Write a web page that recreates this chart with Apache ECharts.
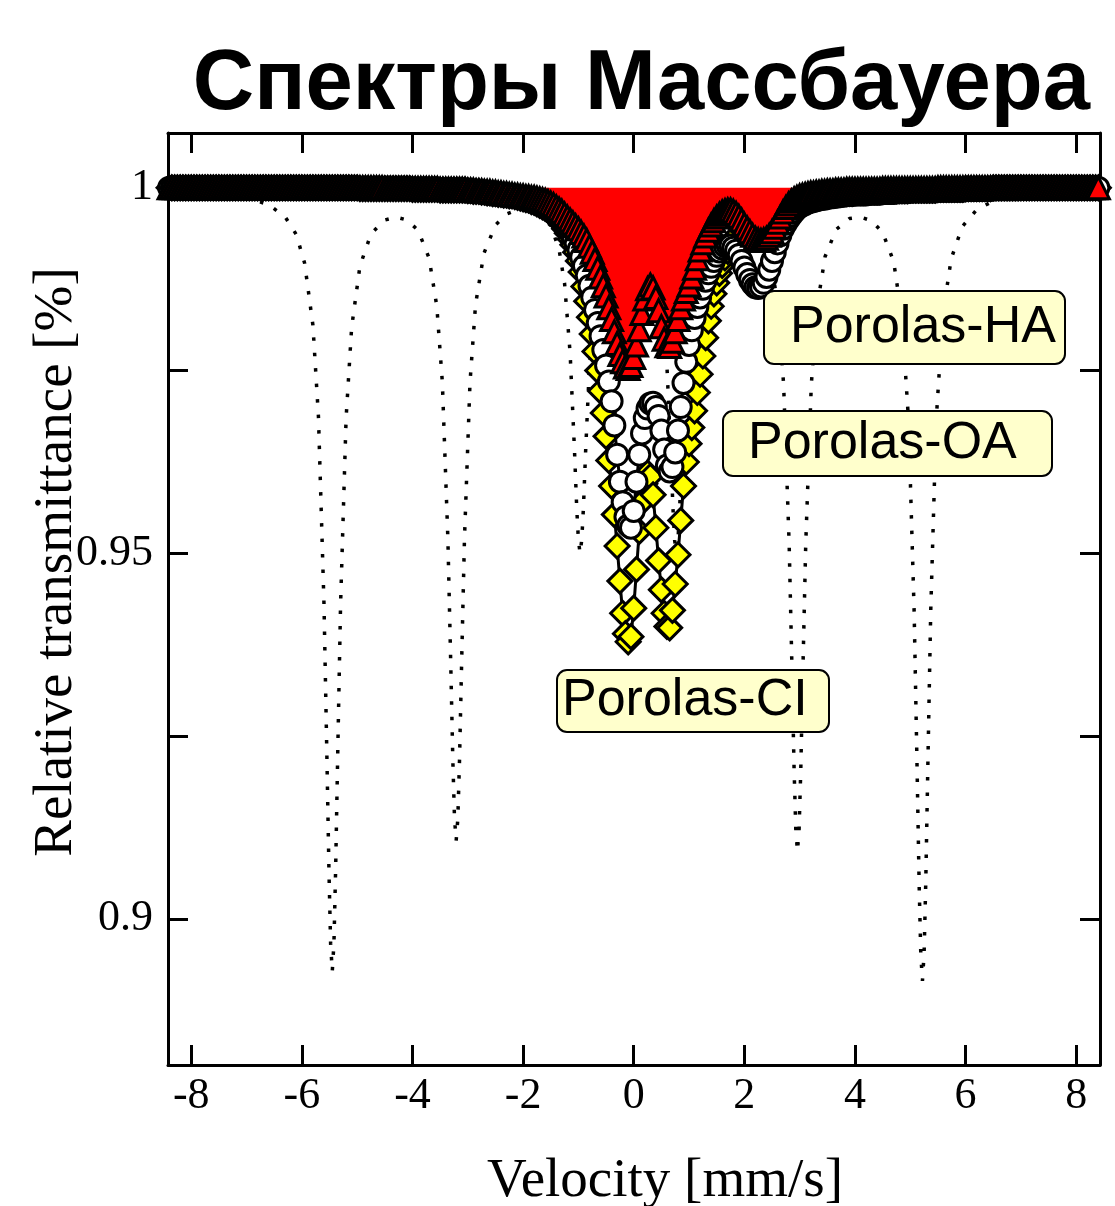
<!DOCTYPE html>
<html>
<head>
<meta charset="utf-8">
<script src="https://cdn.jsdelivr.net/npm/echarts@6/dist/echarts.min.js"></script>
<style>
html,body{margin:0;padding:0;background:#ffffff;}
#chart{width:1115px;height:1206px;}
</style>
</head>
<body>
<div id="chart"></div>
<script>
// Velocity channels [mm/s]
const velocity = [
-8.4,-8.35,-8.3,-8.25,-8.2,-8.15,-8.1,-8.05,
-8,-7.95,-7.9,-7.85,-7.8,-7.75,-7.7,-7.65,-7.6,-7.55,-7.5,-7.45,-7.4,-7.35,-7.3,-7.25,-7.2,-7.15,-7.1,-7.05,
-7,-6.95,-6.9,-6.85,-6.8,-6.75,-6.7,-6.65,-6.6,-6.55,-6.5,-6.45,-6.4,-6.35,-6.3,-6.25,-6.2,-6.15,-6.1,-6.05,
-6,-5.95,-5.9,-5.85,-5.8,-5.75,-5.7,-5.65,-5.6,-5.55,-5.5,-5.45,-5.4,-5.35,-5.3,-5.25,-5.2,-5.15,-5.1,-5.05,
-5,-4.95,-4.9,-4.85,-4.8,-4.75,-4.7,-4.65,-4.6,-4.55,-4.5,-4.45,-4.4,-4.35,-4.3,-4.25,-4.2,-4.15,-4.1,-4.05,
-4,-3.95,-3.9,-3.85,-3.8,-3.75,-3.7,-3.65,-3.6,-3.55,-3.5,-3.45,-3.4,-3.35,-3.3,-3.25,-3.2,-3.15,-3.1,-3.05,
-3,-2.95,-2.9,-2.85,-2.8,-2.75,-2.7,-2.65,-2.6,-2.55,-2.5,-2.45,-2.4,-2.35,-2.3,-2.25,-2.2,-2.15,-2.1,-2.05,
-2,-1.95,-1.9,-1.85,-1.8,-1.75,-1.7,-1.65,-1.6,-1.55,-1.5,-1.45,-1.4,-1.35,-1.3,-1.25,-1.2,-1.15,-1.1,-1.05,
-1,-0.95,-0.9,-0.85,-0.8,-0.75,-0.7,-0.65,-0.6,-0.55,-0.5,-0.45,-0.4,-0.35,-0.3,-0.25,-0.2,-0.15,-0.1,-0.05,
0,0.05,0.1,0.15,0.2,0.25,0.3,0.35,0.4,0.45,0.5,0.55,0.6,0.65,0.7,0.75,0.8,0.85,0.9,0.95,
1,1.05,1.1,1.15,1.2,1.25,1.3,1.35,1.4,1.45,1.5,1.55,1.6,1.65,1.7,1.75,1.8,1.85,1.9,1.95,
2,2.05,2.1,2.15,2.2,2.25,2.3,2.35,2.4,2.45,2.5,2.55,2.6,2.65,2.7,2.75,2.8,2.85,2.9,2.95,
3,3.05,3.1,3.15,3.2,3.25,3.3,3.35,3.4,3.45,3.5,3.55,3.6,3.65,3.7,3.75,3.8,3.85,3.9,3.95,
4,4.05,4.1,4.15,4.2,4.25,4.3,4.35,4.4,4.45,4.5,4.55,4.6,4.65,4.7,4.75,4.8,4.85,4.9,4.95,
5,5.05,5.1,5.15,5.2,5.25,5.3,5.35,5.4,5.45,5.5,5.55,5.6,5.65,5.7,5.75,5.8,5.85,5.9,5.95,
6,6.05,6.1,6.15,6.2,6.25,6.3,6.35,6.4,6.45,6.5,6.55,6.6,6.65,6.7,6.75,6.8,6.85,6.9,6.95,
7,7.05,7.1,7.15,7.2,7.25,7.3,7.35,7.4,7.45,7.5,7.55,7.6,7.65,7.7,7.75,7.8,7.85,7.9,7.95,
8,8.05,8.1,8.15,8.2,8.25,8.3,8.35,8.4
];

// Porolas-CI (yellow diamonds)
const porolasCI = [
1,1,1,1,1,1,1,1,
1,1,1,1,1,1,1,1,1,1, 1,1,1,1,1,1,1,1,1,1,
1,1,1,1,1,1,1,1,1,1, 1,1,1,1,1,1,1,1,1,1,
1,1,1,1,1,1,1,1,1,1, 1,1,1,1,1,1,1,1,1,1,
1,0.9999,0.9999,0.9999,0.9999,0.9999,0.9999,0.9999,0.9999,0.9999, 0.9999,0.9999,0.9999,0.9999,0.9999,0.9999,0.9999,0.9999,0.9999,0.9999,
0.9998,0.9998,0.9998,0.9998,0.9998,0.9998,0.9998,0.9998,0.9998,0.9998, 0.9997,0.9997,0.9997,0.9997,0.9997,0.9997,0.9997,0.9997,0.9997,0.9997,
0.9996,0.9996,0.9995,0.9995,0.9995,0.9994,0.9994,0.9993,0.9993,0.9992, 0.9992,0.9991,0.9991,0.999,0.999,0.9989,0.9989,0.9988,0.9987,0.9986,
0.9985,0.9984,0.9983,0.9981,0.998,0.9978,0.9976,0.9974,0.9972,0.9969, 0.9966,0.9963,0.9959,0.9955,0.995,0.9944,0.9938,0.993,0.9922,0.9912,
0.99,0.9885,0.9865,0.9845,0.9823,0.98,0.9776,0.975,0.9722,0.9692, 0.966,0.9627,0.9592,0.9553,0.951,0.9462,0.9418,0.939,0.9379,0.9386,
0.9425,0.9478,0.953,0.957,0.9595,0.961,0.9605,0.958,0.9535,0.949, 0.945,0.9418,0.94,0.9398,0.9422,0.9458,0.9498,0.9545,0.9592,0.9625,
0.965,0.9672,0.9695,0.972,0.9745,0.977,0.9795,0.9818,0.9838,0.9855, 0.987,0.9883,0.9894,0.9904,0.9913,0.992,0.9927,0.9933,0.9938,0.9943,
0.9947,0.995,0.9953,0.9956,0.9958,0.996,0.9962,0.9964,0.9966,0.9968, 0.997,0.9972,0.9974,0.9976,0.9977,0.9979,0.998,0.9981,0.9982,0.9983,
0.9984,0.9985,0.9986,0.9987,0.9988,0.9988,0.9989,0.9989,0.999,0.999, 0.9991,0.9991,0.9992,0.9992,0.9993,0.9993,0.9993,0.9994,0.9994,0.9994,
0.9995,0.9995,0.9995,0.9995,0.9995,0.9995,0.9995,0.9995,0.9995,0.9995, 0.9996,0.9996,0.9996,0.9996,0.9996,0.9996,0.9996,0.9996,0.9996,0.9996,
0.9997,0.9997,0.9997,0.9997,0.9997,0.9997,0.9997,0.9997,0.9997,0.9997, 0.9998,0.9998,0.9998,0.9998,0.9998,0.9998,0.9998,0.9998,0.9998,0.9998,
0.9999,0.9999,0.9999,0.9999,0.9999,0.9999,0.9999,0.9999,0.9999,0.9999, 1,1,1,1,1,1,1,1,1,1,
1,1,1,1,1,1,1,1,1,1, 1,1,1,1,1,1,1,1,1,1,
1,1,1,1,1,1,1,1,1
];

// Porolas-OA (white circles)
const porolasOA = [
1,1,1,1,1,1,1,1,
1,1,1,1,1,1,1,1,1,1, 1,1,1,1,1,1,1,1,1,1,
1,1,1,1,1,1,1,1,1,1, 1,1,1,1,1,1,1,1,1,1,
1,1,1,1,1,1,1,1,1,1, 1,1,1,1,1,1,1,1,1,1,
1,0.9999,0.9999,0.9999,0.9999,0.9999,0.9999,0.9999,0.9999,0.9999, 0.9999,0.9999,0.9999,0.9999,0.9999,0.9999,0.9999,0.9999,0.9999,0.9999,
0.9998,0.9998,0.9998,0.9998,0.9998,0.9998,0.9998,0.9998,0.9998,0.9998, 0.9997,0.9997,0.9997,0.9997,0.9997,0.9997,0.9997,0.9997,0.9997,0.9997,
0.9996,0.9996,0.9995,0.9995,0.9995,0.9994,0.9994,0.9993,0.9993,0.9992, 0.9992,0.9991,0.9991,0.999,0.999,0.9989,0.9989,0.9988,0.9987,0.9987,
0.9986,0.9985,0.9984,0.9983,0.9981,0.998,0.9978,0.9976,0.9974,0.9972, 0.9969,0.9966,0.9963,0.9959,0.9955,0.995,0.9945,0.9939,0.9932,0.9924,
0.9915,0.9905,0.9893,0.988,0.9866,0.985,0.9833,0.9815,0.9797,0.9778, 0.9757,0.9735,0.9708,0.9675,0.9635,0.9598,0.957,0.955,0.9538,0.9535,
0.9558,0.9598,0.9635,0.9664,0.9685,0.9698,0.9705,0.9706,0.97,0.9688, 0.9668,0.9642,0.962,0.9612,0.9618,0.9638,0.9668,0.97,0.9733,0.9762,
0.9785,0.9805,0.9822,0.9837,0.985,0.9862,0.9873,0.9883,0.9892,0.99, 0.9907,0.9913,0.9917,0.992,0.9921,0.9921,0.9918,0.9914,0.9908,0.99,
0.9891,0.9882,0.9874,0.9868,0.9864,0.9863,0.9865,0.987,0.9878,0.9888, 0.99,0.9912,0.9924,0.9935,0.9944,0.9951,0.9957,0.9962,0.9967,0.9971,
0.9974,0.9976,0.9978,0.998,0.9981,0.9982,0.9983,0.9984,0.9985,0.9985, 0.9986,0.9987,0.9987,0.9988,0.9988,0.9989,0.9989,0.999,0.999,0.999,
0.9991,0.9991,0.9991,0.9991,0.9991,0.9992,0.9992,0.9992,0.9992,0.9992, 0.9993,0.9993,0.9993,0.9993,0.9993,0.9994,0.9994,0.9994,0.9994,0.9994,
0.9995,0.9995,0.9995,0.9995,0.9995,0.9995,0.9995,0.9995,0.9995,0.9995, 0.9996,0.9996,0.9996,0.9996,0.9996,0.9996,0.9996,0.9996,0.9996,0.9996,
0.9997,0.9997,0.9997,0.9997,0.9997,0.9997,0.9997,0.9997,0.9997,0.9997, 0.9998,0.9998,0.9998,0.9998,0.9998,0.9998,0.9998,0.9998,0.9998,0.9998,
0.9999,0.9999,0.9999,0.9999,0.9999,0.9999,0.9999,0.9999,0.9999,0.9999, 1,1,1,1,1,1,1,1,1,1,
1,1,1,1,1,1,1,1,1
];

// Porolas-HA (red triangles, filled)
const porolasHA = [
1,1,1,1,1,1,1,1,
1,1,1,1,1,1,1,1,1,1, 1,1,1,1,1,1,1,1,1,1,
1,1,1,1,1,1,1,1,1,1, 1,1,1,1,1,1,1,1,1,1,
1,1,1,1,1,1,1,1,1,1, 1,1,1,1,1,1,1,1,1,1,
1,1,1,1,1,1,1,1,1,1, 0.9999,0.9999,0.9999,0.9999,0.9999,0.9999,0.9999,0.9999,0.9999,0.9999,
0.9999,0.9999,0.9999,0.9999,0.9999,0.9999,0.9999,0.9999,0.9999,0.9999, 0.9998,0.9998,0.9998,0.9998,0.9998,0.9998,0.9998,0.9998,0.9998,0.9998,
0.9997,0.9997,0.9997,0.9996,0.9996,0.9996,0.9995,0.9995,0.9995,0.9994, 0.9994,0.9993,0.9993,0.9992,0.9992,0.9991,0.9991,0.999,0.999,0.9989,
0.9989,0.9988,0.9988,0.9987,0.9987,0.9986,0.9985,0.9984,0.9983,0.9981, 0.9979,0.9977,0.9974,0.9971,0.9968,0.9964,0.996,0.9956,0.9952,0.9948,
0.9944,0.9939,0.9934,0.9928,0.992,0.9912,0.9902,0.989,0.9878,0.9866, 0.9852,0.9836,0.982,0.9803,0.9787,0.9772,0.9762,0.9755,0.9753,0.9757,
0.9768,0.9785,0.9806,0.9828,0.9848,0.9862,0.9867,0.9863,0.985,0.9832, 0.981,0.9793,0.9784,0.9783,0.979,0.9803,0.982,0.9836,0.9848,0.9858,
0.9867,0.9878,0.989,0.9903,0.9915,0.9925,0.9934,0.9942,0.9949,0.9955, 0.996,0.9964,0.9967,0.9969,0.997,0.997,0.9968,0.9965,0.9961,0.9956,
0.995,0.9945,0.994,0.9935,0.9931,0.9929,0.9928,0.9929,0.9931,0.9935, 0.994,0.9946,0.9953,0.996,0.9967,0.9973,0.9978,0.9982,0.9985,0.9987,
0.9989,0.999,0.9991,0.9992,0.9993,0.9993,0.9994,0.9994,0.9995,0.9995, 0.9996,0.9996,0.9996,0.9997,0.9997,0.9997,0.9997,0.9998,0.9998,0.9998,
0.9998,0.9998,0.9998,0.9998,0.9998,0.9998,0.9998,0.9998,0.9998,0.9998, 0.9999,0.9999,0.9999,0.9999,0.9999,0.9999,0.9999,0.9999,0.9999,0.9999,
0.9999,0.9999,0.9999,0.9999,0.9999,0.9999,0.9999,0.9999,0.9999,0.9999, 1,1,1,1,1,1,1,1,1,1,
1,1,1,1,1,1,1,1,1,1, 1,1,1,1,1,1,1,1,1,1,
1,1,1,1,1,1,1,1,1,1, 1,1,1,1,1,1,1,1,1,1,
1,1,1,1,1,1,1,1,1
];

// Reference sextet (dotted line)
const sextetVelocity = [
-8.42,-8,-7.5,-7,-6.6,-6.3,-6.1,-5.95,-5.8,-5.7,-5.6,-5.55,-5.51,-5.48,-5.45,-5.42,-5.39,-5.35,-5.3,-5.2,-5.1,-4.95,-4.75,-4.5,-4.3,-4.1,
-3.9,-3.7,-3.56,-3.46,-3.36,-3.31,-3.27,-3.24,-3.21,-3.18,-3.15,-3.11,-3.06,-2.96,-2.86,-2.71,-2.5,-2.3,-2.1,-1.9,-1.7,-1.5,
-1.35,-1.25,-1.15,-1.07,-1.03,-1,-0.97,-0.94,-0.91,-0.87,-0.79,-0.69,-0.59,-0.44,-0.2,-0.1,0,0.24,
0.39,0.49,0.59,0.67,0.71,0.74,0.77,0.8,0.83,0.87,0.95,1.05,1.15,1.3,1.5,1.7,1.9,2.1,2.3,
2.47,2.61,2.71,2.81,2.86,2.9,2.93,2.96,2.99,3.02,3.06,3.11,3.21,3.31,3.46,3.66,3.9,4.1,4.3,4.5,
4.7,4.85,4.97,5.07,5.12,5.16,5.19,5.22,5.25,5.28,5.32,5.37,5.47,5.59,5.74,5.94,6.2,6.5,6.9,7.5,8,8.43
];
const sextetTransmittance = [
0.9996,0.9994,0.9992,0.99865,0.9977,0.996,0.9936,0.9897,0.9812,0.9687,0.9431,0.9233,0.9066,0.8966,0.8928,0.8966,0.9065,0.9232,0.943,0.9685,0.9809,0.9893,0.9937,0.9956,0.996,0.9956,
0.9942,0.9904,0.9838,0.9734,0.952,0.9355,0.9216,0.9137,0.9107,0.9137,0.9216,0.9355,0.952,0.9734,0.984,0.991,0.9949,0.9964,0.997,0.9969,0.9964,0.9948,
0.9916,0.9869,0.9774,0.9639,0.9561,0.9518,0.95,0.9518,0.9561,0.9639,0.9775,0.987,0.9916,0.9948,0.9962,0.9961,0.9961,0.9946,
0.9916,0.987,0.9774,0.9638,0.9561,0.9518,0.9501,0.9518,0.9561,0.9638,0.9775,0.987,0.9916,0.9947,0.9963,0.9967,0.9966,0.9959,0.9941,
0.9905,0.9837,0.9731,0.9513,0.9345,0.9203,0.9123,0.9092,0.9123,0.9203,0.9345,0.9513,0.973,0.9835,0.9906,0.9943,0.9958,0.996,0.9955,0.9939,
0.9899,0.9822,0.968,0.942,0.9218,0.9048,0.8952,0.8915,0.8953,0.905,0.922,0.9422,0.9684,0.9827,0.9903,0.9947,0.997,0.9982,0.9989,0.9994,0.9995,0.99965
];

// Axis ticks and labels
const xTicks = [-8,-6,-4,-2,0,2,4,6,8];
const yTicks = [0.9,0.925,0.95,0.975,1];
const yLabelValues = [0.9,0.95,1];

[porolasCI, porolasOA, porolasHA].forEach(function(a, k){
  if (a.length !== velocity.length) throw new Error('length mismatch in series ' + k + ': ' + a.length + ' vs ' + velocity.length);
});
if (sextetVelocity.length !== sextetTransmittance.length) throw new Error('sextet length mismatch ' + sextetVelocity.length + ' ' + sextetTransmittance.length);

function pairs(xs, ys){ return xs.map(function(v, i){ return [v, ys[i]]; }); }

const chart = echarts.init(document.getElementById('chart'), null, {renderer: 'canvas'});

const axisLineStyle = {color: '#000', width: 3};
const X_MIN = -8.42, X_MAX = 8.43, Y_MIN = 0.88, Y_MAX = 1.0075;

const option = {
  animation: false,
  backgroundColor: '#ffffff',
  grid: {left: 168, right: 15, top: 133, bottom: 141, containLabel: false},
  xAxis: [
    {
      type: 'value', min: X_MIN, max: X_MAX, position: 'bottom',
      axisLine: {show: true, onZero: false, lineStyle: axisLineStyle},
      axisTick: {show: true, inside: true, length: 20, lineStyle: {color: '#000', width: 3}, customValues: xTicks},
      axisLabel: {show: true, customValues: xTicks, margin: 9, color: '#000', fontFamily: 'Liberation Serif', fontSize: 44,
        formatter: function(v){ return String(v); }},
      splitLine: {show: false}
    },
    {
      type: 'value', min: X_MIN, max: X_MAX, position: 'top',
      axisLine: {show: true, onZero: false, lineStyle: axisLineStyle},
      axisTick: {show: true, inside: true, length: 20, lineStyle: {color: '#000', width: 3}, customValues: xTicks},
      axisLabel: {show: false},
      splitLine: {show: false}
    }
  ],
  yAxis: [
    {
      type: 'value', min: Y_MIN, max: Y_MAX, position: 'left',
      axisLine: {show: true, onZero: false, lineStyle: axisLineStyle},
      axisTick: {show: true, inside: true, length: 20, lineStyle: {color: '#000', width: 3}, customValues: yTicks},
      axisLabel: {show: true, customValues: yLabelValues, margin: 15, color: '#000', fontFamily: 'Liberation Serif', fontSize: 44,
        formatter: function(v){ return String(v); }},
      splitLine: {show: false}
    },
    {
      type: 'value', min: Y_MIN, max: Y_MAX, position: 'right',
      axisLine: {show: true, onZero: false, lineStyle: axisLineStyle},
      axisTick: {show: true, inside: true, length: 20, lineStyle: {color: '#000', width: 3}, customValues: yTicks},
      axisLabel: {show: false},
      splitLine: {show: false}
    }
  ],
  series: [
    {
      name: 'Sextet', type: 'line', xAxisIndex: 0, yAxisIndex: 0,
      data: pairs(sextetVelocity, sextetTransmittance),
      showSymbol: false, symbol: 'none', clip: false, silent: true,
      lineStyle: {color: '#000', width: 3.5, type: [3.5, 12], cap: 'butt'},
      z: 2
    },
    {
      name: 'Porolas-CI', type: 'line', xAxisIndex: 0, yAxisIndex: 0,
      data: pairs(velocity, porolasCI),
      symbol: 'diamond', symbolSize: 24, showSymbol: true, clip: false, silent: true,
      itemStyle: {color: '#ffff00', borderColor: '#000', borderWidth: 3},
      lineStyle: {color: '#000', width: 3},
      emphasis: {disabled: true},
      z: 3
    },
    {
      name: 'Porolas-OA', type: 'line', xAxisIndex: 0, yAxisIndex: 0,
      data: pairs(velocity, porolasOA),
      symbol: 'circle', symbolSize: 21, showSymbol: true, clip: false, silent: true,
      itemStyle: {color: '#ffffff', borderColor: '#000', borderWidth: 3},
      lineStyle: {color: '#000', width: 3},
      emphasis: {disabled: true},
      z: 4
    },
    {
      name: 'Porolas-HA', type: 'line', xAxisIndex: 0, yAxisIndex: 0,
      data: pairs(velocity, porolasHA),
      symbol: 'triangle', symbolSize: 22, showSymbol: true, clip: false, silent: true,
      itemStyle: {color: '#ff0000', borderColor: '#000', borderWidth: 3},
      lineStyle: {color: '#000', width: 3},
      areaStyle: {color: '#ff0000', opacity: 1, origin: 1},
      emphasis: {disabled: true},
      z: 5
    }
  ],
  graphic: [
    {type: 'text', x: 1090, y: 86, z: 100,
      style: {text: 'Спектры Массбауера', font: 'bold 85px "Liberation Sans"', fill: '#000',
        align: 'right', textAlign: 'right', verticalAlign: 'middle', textVerticalAlign: 'middle'}},
    {type: 'text', x: 57, y: 562, rotation: Math.PI / 2, z: 100,
      style: {text: 'Relative transmittance [%]', font: '55px "Liberation Serif"', fill: '#000',
        align: 'center', textAlign: 'center', verticalAlign: 'middle', textVerticalAlign: 'middle'}},
    {type: 'text', x: 665, y: 1182, z: 100,
      style: {text: 'Velocity [mm/s]', font: '55px "Liberation Serif"', fill: '#000',
        align: 'center', textAlign: 'center', verticalAlign: 'middle', textVerticalAlign: 'middle'}},
    {type: 'rect', z: 100, shape: {x: 764, y: 291, width: 301, height: 73, r: 10},
      style: {fill: '#ffffcc', stroke: '#000', lineWidth: 2}},
    {type: 'text', x: 790, y: 328, z: 101,
      style: {text: 'Porolas-HA', font: '52px "Liberation Sans"', fill: '#000',
        align: 'left', textAlign: 'left', verticalAlign: 'middle', textVerticalAlign: 'middle'}},
    {type: 'rect', z: 100, shape: {x: 723, y: 411, width: 329, height: 65, r: 10},
      style: {fill: '#ffffcc', stroke: '#000', lineWidth: 2}},
    {type: 'text', x: 748, y: 444, z: 101,
      style: {text: 'Porolas-OA', font: '52px "Liberation Sans"', fill: '#000',
        align: 'left', textAlign: 'left', verticalAlign: 'middle', textVerticalAlign: 'middle'}},
    {type: 'rect', z: 100, shape: {x: 557, y: 670, width: 272, height: 62, r: 10},
      style: {fill: '#ffffcc', stroke: '#000', lineWidth: 2}},
    {type: 'text', x: 562, y: 701, z: 101,
      style: {text: 'Porolas-CI', font: '52px "Liberation Sans"', fill: '#000',
        align: 'left', textAlign: 'left', verticalAlign: 'middle', textVerticalAlign: 'middle'}}
  ]
};

chart.setOption(option);
</script>
</body>
</html>
